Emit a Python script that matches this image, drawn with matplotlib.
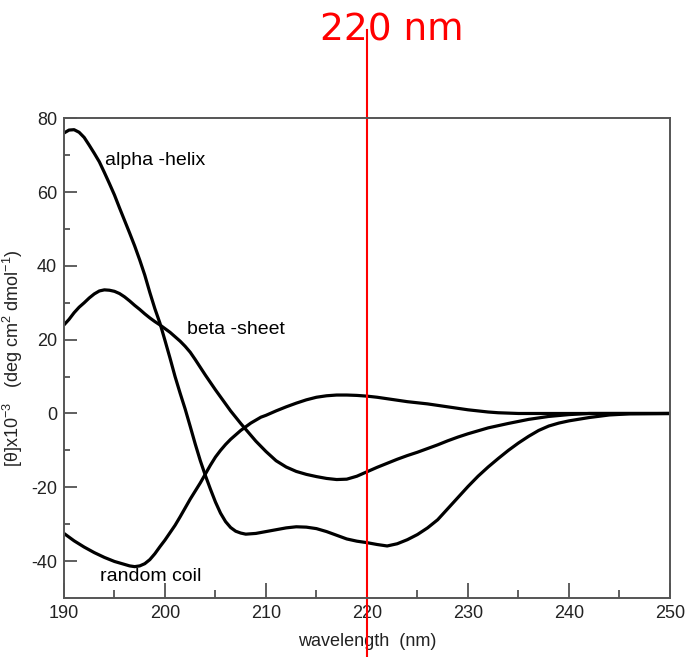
import matplotlib
matplotlib.use("Agg")
import matplotlib.pyplot as plt
from matplotlib.ticker import MultipleLocator
from matplotlib.transforms import blended_transform_factory

plt.rcParams["axes.unicode_minus"] = False
plt.rcParams["mathtext.fontset"] = "custom"
plt.rcParams["mathtext.rm"] = "Liberation Sans"
plt.rcParams["mathtext.it"] = "Liberation Sans:italic"

# Data
alpha_x = [190.0, 190.5, 191.0, 191.5, 192.0, 192.5, 193.0, 193.5, 194.0, 194.5, 195.0,
           195.5, 196.0, 196.5, 197.0, 197.5, 198.0, 198.5, 199.0, 199.5, 200.0,
           200.5, 201.0, 201.5, 202.0, 202.5, 203.0, 203.5, 204.0, 204.5, 205.0,
           205.5, 206.0, 206.5, 207.0, 207.5, 208.0, 209.0, 210.0, 211.0, 212.0,
           213.0, 214.0, 215.0, 216.0, 217.0, 218.0, 219.0, 220.0, 221.0, 222.0,
           223.0, 224.0, 225.0, 226.0, 227.0, 228.0, 229.0, 230.0, 231.0, 232.0,
           233.0, 234.0, 235.0, 236.0, 237.0, 238.0, 239.0, 240.0, 242.0, 244.0,
           246.0, 250.0]
alpha_y = [76.0, 76.8, 76.9, 76.2, 74.8, 72.7, 70.5, 68.2, 65.3, 62.3, 59.2,
           55.7, 52.3, 48.9, 45.4, 41.6, 37.5, 32.8, 28.4, 24.5, 19.8,
           15.0, 10.0, 5.5, 1.2, -3.5, -8.3, -12.8, -16.8, -20.5, -24.0,
           -27.0, -29.3, -30.9, -31.9, -32.4, -32.7, -32.5, -32.0, -31.5, -31.0,
           -30.7, -30.8, -31.2, -32.0, -33.0, -34.0, -34.6, -35.0, -35.5, -35.9,
           -35.3, -34.2, -32.8, -31.0, -28.8, -25.8, -22.8, -19.8, -17.0, -14.5,
           -12.2, -10.0, -8.0, -6.2, -4.6, -3.4, -2.6, -2.0, -1.1, -0.4,
           -0.1, 0.0]

beta_x = [190.0, 190.5, 191.0, 191.5, 192.0, 192.5, 193.0, 193.5, 194.0, 194.5, 195.0,
          195.5, 196.0, 196.5, 197.0, 197.5, 198.0, 198.5, 199.0, 199.5, 200.0,
          200.5, 201.0, 201.5, 202.0, 202.5, 203.0, 203.5, 204.0, 204.5, 205.0,
          205.5, 206.0, 206.5, 207.0, 207.5, 208.0, 209.0, 210.0, 211.0, 212.0,
          213.0, 214.0, 215.0, 216.0, 217.0, 218.0, 219.0, 220.0, 221.0, 222.0,
          223.0, 224.0, 225.0, 226.0, 227.0, 228.0, 229.0, 230.0, 232.0, 234.0,
          236.0, 238.0, 240.0, 242.0, 250.0]
beta_y = [24.0, 25.5, 27.3, 28.8, 30.0, 31.3, 32.4, 33.2, 33.5, 33.4, 33.1,
          32.5, 31.6, 30.5, 29.3, 28.2, 27.0, 25.9, 24.9, 24.0, 23.0,
          22.0, 20.8, 19.6, 18.2, 16.6, 14.6, 12.5, 10.4, 8.4, 6.4,
          4.5, 2.6, 0.7, -1.0, -2.7, -4.3, -7.5, -10.3, -12.8, -14.5,
          -15.7, -16.5, -17.1, -17.6, -17.9, -17.8, -17.0, -15.8, -14.6, -13.5,
          -12.4, -11.4, -10.5, -9.5, -8.5, -7.4, -6.4, -5.5, -3.9, -2.7,
          -1.6, -0.8, -0.3, 0.0, 0.0]

coil_x = [190.0, 191.0, 192.0, 193.0, 194.0, 195.0, 196.0, 196.5, 197.0, 197.5, 198.0,
          198.5, 199.0, 199.5, 200.0, 200.5, 201.0, 201.5, 202.0, 202.5, 203.0,
          203.5, 204.0, 204.5, 205.0, 205.5, 206.0, 206.5, 207.0, 207.5, 208.0,
          208.5, 209.0, 209.5, 210.0, 211.0, 212.0, 213.0, 214.0, 215.0, 216.0,
          217.0, 218.0, 219.0, 220.0, 221.0, 222.0, 223.0, 224.0, 225.0, 226.0,
          227.0, 228.0, 229.0, 230.0, 231.0, 232.0, 233.0, 234.0, 235.0, 250.0]
coil_y = [-32.5, -34.5, -36.2, -37.7, -39.0, -40.1, -40.9, -41.3, -41.5, -41.3, -40.7,
          -39.6, -38.0, -36.1, -34.3, -32.3, -30.3, -28.0, -25.6, -23.2, -21.0,
          -18.8, -16.4, -14.0, -11.8, -10.0, -8.4, -7.0, -5.8, -4.6, -3.6,
          -2.6, -1.8, -1.0, -0.5, 0.7, 1.8, 2.8, 3.7, 4.4, 4.8,
          5.0, 5.0, 4.9, 4.7, 4.4, 4.0, 3.6, 3.2, 2.9, 2.6,
          2.2, 1.8, 1.4, 1.0, 0.7, 0.4, 0.2, 0.1, 0.0, 0.0]

labels = ["alpha -helix", "beta -sheet", "random coil"]
label_x = [194.1, 202.2, 193.6]
label_y = [68.6, 22.7, -44.3]

marker_x = 220
marker_text = "220 nm"

fig = plt.figure(figsize=(6.85, 6.57), dpi=100)
ax = fig.add_axes([0.0934, 0.0898, 0.978 - 0.0934, 0.820 - 0.0898])

for xs, ys in [(alpha_x, alpha_y), (beta_x, beta_y), (coil_x, coil_y)]:
    ax.plot(xs, ys, color="black", lw=2.3, solid_joinstyle="round", solid_capstyle="round")

for t, x, y in zip(labels, label_x, label_y):
    ax.text(x, y, t, fontsize=14, family="Liberation Sans", va="center", ha="left")

ax.set_xlim(190, 250)
ax.set_ylim(-50, 80)
ax.xaxis.set_major_locator(MultipleLocator(10))
ax.xaxis.set_minor_locator(MultipleLocator(5))
ax.yaxis.set_major_locator(MultipleLocator(20))
ax.yaxis.set_minor_locator(MultipleLocator(10))
ax.tick_params(axis="x", which="major", direction="in", length=11, width=1.2, color="#444444", pad=5)
ax.tick_params(axis="x", which="minor", direction="in", length=6, width=1.2, color="#444444")
ax.tick_params(axis="y", which="major", direction="in", length=9, width=1.2, color="#444444", pad=5)
ax.tick_params(axis="y", which="minor", direction="in", length=4.5, width=1.2, color="#444444")
for lab in ax.get_xticklabels() + ax.get_yticklabels():
    lab.set_fontfamily("Liberation Sans")
    lab.set_fontsize(13)
    lab.set_color("#222222")
for s in ax.spines.values():
    s.set_color("#555555")
    s.set_linewidth(1.4)

ax.set_xlabel("wavelength  (nm)", fontsize=13, family="Liberation Sans", color="#222222")
ax.xaxis.set_label_coords(0.5, -0.072)
ax.set_ylabel("[θ]x10$^{-3}$   (deg cm$^{2}$ dmol$^{-1}$)", fontsize=13,
              family="Liberation Sans", color="#222222")
ax.yaxis.set_label_coords(-0.064, 0.5)

# red marker line at 220 nm, spanning beyond the axes
trans = blended_transform_factory(ax.transData, fig.transFigure)
ax.plot([marker_x, marker_x], [0.0, 0.955], color="red", lw=1.5, transform=trans, clip_on=False)
fig.text(0.572, 0.953, marker_text, color="red", fontsize=27, ha="center", va="center",
         family="DejaVu Sans")

fig.savefig("out.png", dpi=100, facecolor="white")
